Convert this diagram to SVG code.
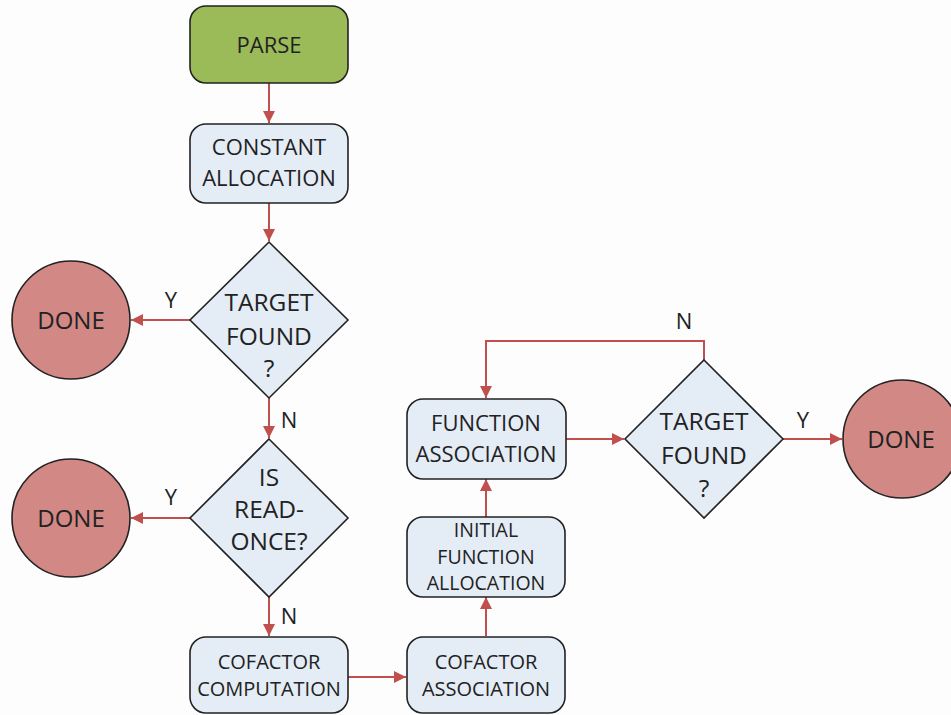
<svg xmlns="http://www.w3.org/2000/svg" width="951" height="715" viewBox="0 0 951 715">
  <defs>
    <marker id="arrow" viewBox="0 0 12 12" refX="12" refY="6" markerWidth="12" markerHeight="12" markerUnits="userSpaceOnUse" orient="auto">
      <path d="M0,0 L12,6 L0,12 z" fill="#c0504d"/>
    </marker>
    <style>
      .box { fill: #e4ecf6; stroke: #222; stroke-width: 1.6; }
      .start { fill: #9bbb59; stroke: #222; stroke-width: 1.6; }
      .done { fill: #d28986; stroke: #222; stroke-width: 1.6; }
      .edge { fill: none; stroke: #c0504d; stroke-width: 2; }
      text { font-family: "Open Sans", "Liberation Sans", sans-serif; fill: #222; text-anchor: middle; }
      .t22 { font-size: 22px; }
      .t25 { font-size: 24.5px; }
      .t24 { font-size: 24px; }
      .t20 { font-size: 20px; }
      .t19 { font-size: 19.5px; }
      .lbl { font-size: 22px; }
    </style>
  </defs>
  <rect width="951" height="715" fill="#fdfdfd"/>

  <g id="connectors">
    <path class="edge" d="M269,83 V123" marker-end="url(#arrow)"/>
    <path class="edge" d="M269,203 V241" marker-end="url(#arrow)"/>
    <path class="edge" d="M190,320 H131" marker-end="url(#arrow)"/>
    <path class="edge" d="M269,398 V438" marker-end="url(#arrow)"/>
    <path class="edge" d="M190,518 H131" marker-end="url(#arrow)"/>
    <path class="edge" d="M269,597 V636" marker-end="url(#arrow)"/>
    <path class="edge" d="M348,677 H406" marker-end="url(#arrow)"/>
    <path class="edge" d="M486,636 V597" marker-end="url(#arrow)"/>
    <path class="edge" d="M486,517 V479" marker-end="url(#arrow)"/>
    <path class="edge" d="M566,439 H624" marker-end="url(#arrow)"/>
    <path class="edge" d="M704,360 V341 H486 V398" marker-end="url(#arrow)"/>
    <path class="edge" d="M783,439 H842" marker-end="url(#arrow)"/>
    <text class="lbl" x="171" y="308">Y</text>
    <text class="lbl" x="289" y="428">N</text>
    <text class="lbl" x="171" y="505">Y</text>
    <text class="lbl" x="289" y="624">N</text>
    <text class="lbl" x="684" y="329">N</text>
    <text class="lbl" x="803" y="428">Y</text>
  </g>

  <g id="parse">
    <rect class="start" x="190" y="6" width="158" height="77" rx="16"/>
    <text class="t22" x="269" y="53">PARSE</text>
  </g>

  <g id="constant-allocation">
    <rect class="box" x="190" y="124" width="158" height="79" rx="16"/>
    <text class="t22" x="269" y="155">CONSTANT</text>
    <text class="t22" x="269" y="186">ALLOCATION</text>
  </g>

  <g id="target-found-1">
    <polygon class="box" points="269,242 348,320 269,398 190,320"/>
    <text class="t25" x="269" y="311">TARGET</text>
    <text class="t25" x="269" y="345">FOUND</text>
    <text class="t25" x="269" y="377">?</text>
  </g>

  <g id="done-1">
    <circle class="done" cx="71" cy="320" r="59"/>
    <text class="t24" x="71" y="329">DONE</text>
  </g>

  <g id="is-read-once">
    <polygon class="box" points="269,439 348,518 269,597 190,518"/>
    <text class="t25" x="269" y="486">IS</text>
    <text class="t25" x="269" y="518">READ-</text>
    <text class="t25" x="269" y="550">ONCE?</text>
  </g>

  <g id="done-2">
    <circle class="done" cx="71" cy="518" r="59"/>
    <text class="t24" x="71" y="527">DONE</text>
  </g>

  <g id="cofactor-computation">
    <rect class="box" x="190" y="637" width="158" height="76" rx="16"/>
    <text class="t20" x="269" y="669">COFACTOR</text>
    <text class="t20" x="269" y="696">COMPUTATION</text>
  </g>

  <g id="cofactor-association">
    <rect class="box" x="407" y="637" width="158" height="76" rx="16"/>
    <text class="t20" x="486" y="669">COFACTOR</text>
    <text class="t20" x="486" y="696">ASSOCIATION</text>
  </g>

  <g id="initial-function-allocation">
    <rect class="box" x="407" y="517" width="158" height="80" rx="16"/>
    <text class="t19" x="486" y="537">INITIAL</text>
    <text class="t19" x="486" y="564">FUNCTION</text>
    <text class="t19" x="486" y="590">ALLOCATION</text>
  </g>

  <g id="function-association">
    <rect class="box" x="407" y="399" width="159" height="80" rx="16"/>
    <text class="t22" x="486" y="431">FUNCTION</text>
    <text class="t22" x="486" y="462">ASSOCIATION</text>
  </g>

  <g id="target-found-2">
    <polygon class="box" points="704,360 783,439 704,518 625,439"/>
    <text class="t25" x="704" y="430">TARGET</text>
    <text class="t25" x="704" y="464">FOUND</text>
    <text class="t25" x="704" y="497">?</text>
  </g>

  <g id="done-3">
    <circle class="done" cx="902" cy="439" r="59"/>
    <text class="t24" x="901" y="448">DONE</text>
  </g>
</svg>
